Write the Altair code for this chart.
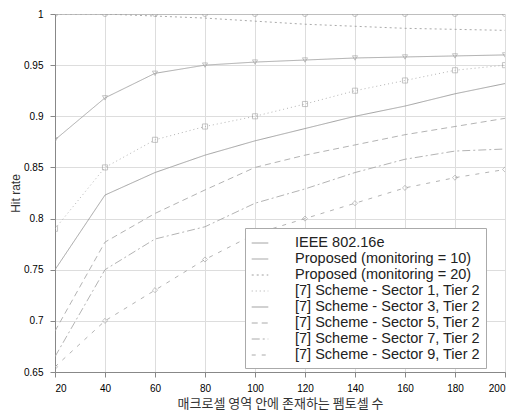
import altair as alt
import pandas as pd

# ---- data ----
x_vals = [20, 40, 60, 80, 100, 120, 140, 160, 180, 200]

ieee    = [1.0, 1.0, 1.0, 1.0, 1.0, 1.0, 1.0, 1.0, 1.0, 1.0]
prop10  = [0.877, 0.918, 0.942, 0.950, 0.953, 0.955, 0.957, 0.958, 0.959, 0.960]
prop20  = [1.0, 1.0, 0.998, 0.996, 0.993, 0.990, 0.988, 0.986, 0.985, 0.984]
sec1    = [0.790, 0.850, 0.877, 0.890, 0.900, 0.912, 0.925, 0.935, 0.945, 0.950]
sec3    = [0.750, 0.823, 0.845, 0.862, 0.876, 0.888, 0.900, 0.910, 0.922, 0.932]
sec5    = [0.690, 0.777, 0.805, 0.828, 0.850, 0.862, 0.872, 0.882, 0.890, 0.898]
sec7    = [0.665, 0.750, 0.780, 0.792, 0.815, 0.829, 0.845, 0.858, 0.866, 0.868]
sec9    = [0.655, 0.700, 0.730, 0.760, 0.785, 0.800, 0.815, 0.830, 0.840, 0.848]

names = [
    "IEEE 802.16e",
    "Proposed (monitoring = 10)",
    "Proposed (monitoring = 20)",
    "[7] Scheme - Sector 1, Tier 2",
    "[7] Scheme - Sector 3, Tier 2",
    "[7] Scheme - Sector 5, Tier 2",
    "[7] Scheme - Sector 7, Tier 2",
    "[7] Scheme - Sector 9, Tier 2",
]
series = [ieee, prop10, prop20, sec1, sec3, sec5, sec7, sec9]

y_ticks = [0.65, 0.7, 0.75, 0.8, 0.85, 0.9, 0.95, 1.0]

rows = []
for name, vals in zip(names, series):
    for xv, yv in zip(x_vals, vals):
        rows.append({"x": xv, "y": yv, "series": name})
df = pd.DataFrame(rows)

# styles
dash_range = [[1, 0], [1, 0], [2, 3], [1, 3], [1, 0], [6, 4], [8, 3, 2, 3], [4, 6]]
color_range = ["#9a9a9a", "#a0a0a0", "#a0a0a0", "#aaaaaa", "#999999",
               "#aaaaaa", "#aaaaaa", "#aaaaaa"]
marker_series = [names[0], names[1], names[3], names[7]]
marker_shapes = ["circle", "triangle-down", "square", "diamond"]

legend = alt.Legend(
    title=None, orient="none", legendX=190, legendY=214,
    symbolType="stroke", symbolSize=275, symbolStrokeWidth=1,
    labelFont="Liberation Sans", labelFontSize=14.5, labelColor="#222222",
    strokeColor="#aaaaaa", fillColor="white", padding=6,
    rowPadding=0, labelOffset=26, labelLimit=400,
)

x_enc = alt.X(
    "x:Q",
    scale=alt.Scale(domain=[20, 200], nice=False),
    axis=alt.Axis(values=x_vals, title="매크로셀 영역 안에 존재하는 펨토셀 수",
                  titleFont="Noto Sans CJK KR", titleFontSize=13,
                  titleFontWeight="normal", titleColor="#333333",
                  titlePadding=4, labelPadding=6),
)
y_enc = alt.Y(
    "y:Q",
    scale=alt.Scale(domain=[0.65, 1.0], nice=False, zero=False),
    axis=alt.Axis(values=y_ticks, format="~g", title="Hit rate",
                  titleFont="Liberation Sans", titleFontSize=12,
                  titleFontWeight="normal", titleColor="#333333",
                  titlePadding=1, labelPadding=7),
)

lines = alt.Chart(df).mark_line(strokeWidth=0.9, clip=True).encode(
    x=x_enc,
    y=y_enc,
    color=alt.Color("series:N", scale=alt.Scale(domain=names, range=color_range),
                    legend=legend, sort=names),
    strokeDash=alt.StrokeDash("series:N", scale=alt.Scale(domain=names, range=dash_range),
                              legend=legend, sort=names),
)

points = alt.Chart(df).transform_filter(
    alt.FieldOneOfPredicate(field="series", oneOf=marker_series)
).mark_point(filled=False, size=26, strokeWidth=0.8, clip=True).encode(
    x="x:Q",
    y="y:Q",
    shape=alt.Shape("series:N", scale=alt.Scale(domain=marker_series, range=marker_shapes),
                    legend=None),
    color=alt.value("#999999"),
)

chart = alt.layer(lines, points).properties(
    width=450, height=358,
    autosize="none",
    padding={"left": 47, "top": 6, "right": 5, "bottom": 44},
).configure_axis(
    labelFont="Liberation Sans", labelFontSize=12, labelColor="#333333",
    domain=False, ticks=False,
    grid=True, gridColor="#c4c4c4", gridDash=[2, 4], gridWidth=1,
).configure_view(
    stroke="#aaaaaa", strokeWidth=1,
).configure(background="white")

chart.save("out.html", embed_options={"renderer": "svg", "actions": False})
